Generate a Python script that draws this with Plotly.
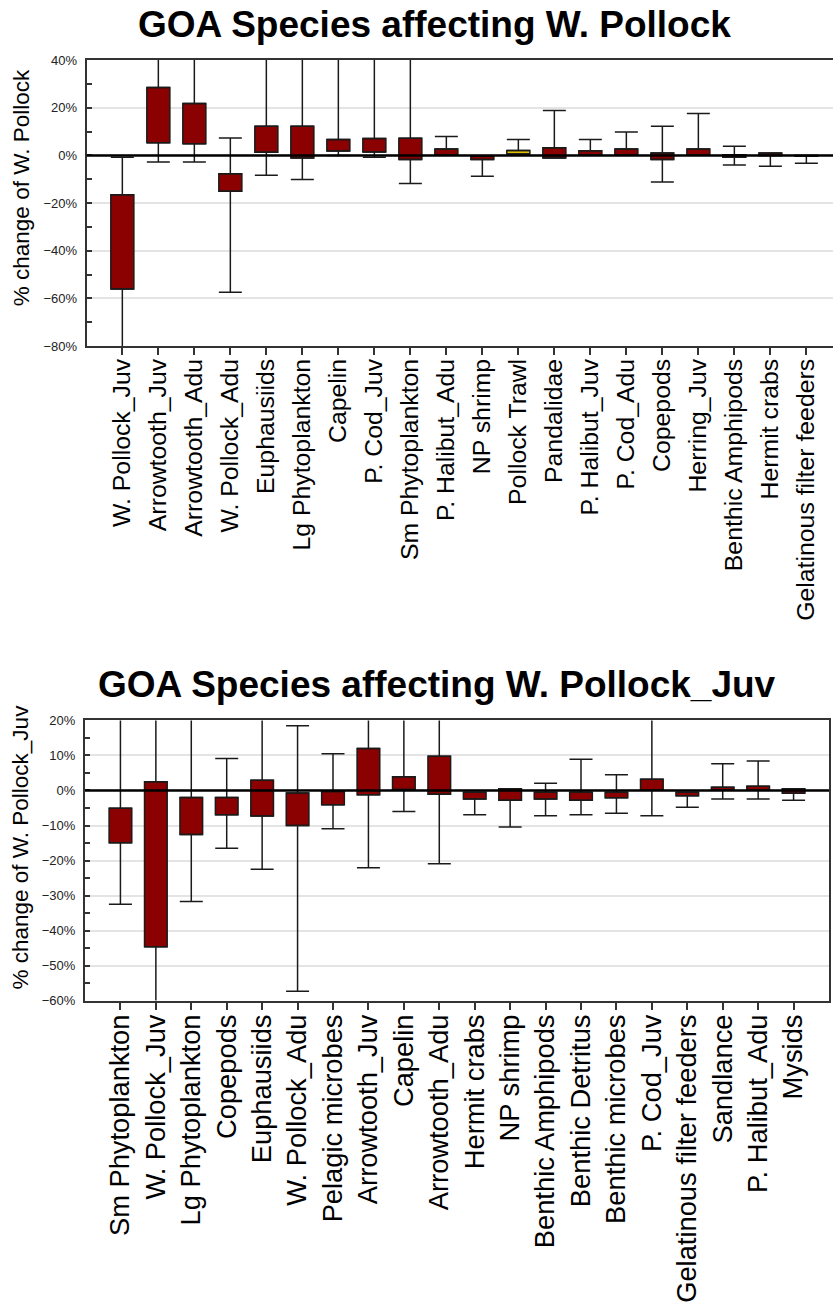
import plotly.graph_objects as go

# ---------------- data: top panel ----------------
cats_top = ["W. Pollock_Juv", "Arrowtooth_Juv", "Arrowtooth_Adu", "W. Pollock_Adu",
            "Euphausiids", "Lg Phytoplankton", "Capelin", "P. Cod_Juv",
            "Sm Phytoplankton", "P. Halibut_Adu", "NP shrimp", "Pollock Trawl",
            "Pandalidae", "P. Halibut_Juv", "P. Cod_Adu", "Copepods",
            "Herring_Juv", "Benthic Amphipods", "Hermit crabs",
            "Gelatinous filter feeders"]
box_lo_top = [-56.1, 5.3, 4.9, -15.0, 1.3, -1.1, 1.9, 1.4, -1.7, 0.3,
              -1.7, 0.6, -1.1, 0.3, 0.3, -1.7, 0.2, -0.8, 0.0, -0.3]
box_hi_top = [-16.5, 28.5, 21.8, -7.7, 12.2, 12.2, 6.7, 7.1, 7.2, 2.7,
              -0.3, 2.1, 3.2, 2.0, 2.7, 1.0, 2.7, 0.3, 1.0, 0.0]
whisk_lo_top = [-95.0, -2.8, -2.8, -57.5, -8.3, -10.1, 0.0, -0.8, -11.8, 0.3,
                -8.8, 0.6, -1.1, 0.3, 0.3, -11.2, 0.2, -4.0, -4.6, -3.3]
whisk_hi_top = [-0.8, 60.0, 60.0, 7.3, 60.0, 60.0, 60.0, 60.0, 60.0, 7.9,
                -0.3, 6.7, 18.8, 6.7, 9.8, 12.2, 17.6, 3.8, 1.0, 0.0]

# ---------------- data: bottom panel ----------------
cats_bot = ["Sm Phytoplankton", "W. Pollock_Juv", "Lg Phytoplankton", "Copepods",
            "Euphausiids", "W. Pollock_Adu", "Pelagic microbes", "Arrowtooth_Juv",
            "Capelin", "Arrowtooth_Adu", "Hermit crabs", "NP shrimp",
            "Benthic Amphipods", "Benthic Detritus", "Benthic microbes",
            "P. Cod_Juv", "Gelatinous filter feeders", "Sandlance",
            "P. Halibut_Adu", "Mysids"]
box_lo_bot = [-14.9, -44.6, -12.6, -6.9, -7.3, -10.0, -4.1, -1.2, 0.3, -1.1,
              -2.4, -2.8, -2.4, -2.8, -2.1, 0.1, -1.5, 0.2, 0.2, -0.8]
box_hi_bot = [-5.1, 2.5, -2.0, -2.0, 2.9, -0.7, -0.3, 12.0, 3.9, 9.8,
              -0.5, 0.5, -0.5, -0.5, -0.5, 3.2, -0.5, 0.9, 1.2, 0.5]
whisk_lo_bot = [-32.5, -75.0, -31.7, -16.5, -22.5, -57.3, -10.9, -22.1, -6.0, -20.9,
                -6.9, -10.4, -7.2, -6.9, -6.5, -7.2, -4.8, -2.4, -2.4, -2.8]
whisk_hi_bot = [35.0, 40.0, 30.0, 9.1, 35.0, 18.5, 10.5, 30.0, 30.0, 30.0,
                -0.5, 0.5, 2.1, 8.9, 4.5, 30.0, -0.5, 7.6, 8.4, 0.5]

highlight_top = "Pollock Trawl"

W, H = 833, 1304
FONT = "Liberation Sans, Arial, sans-serif"
DARKRED = "#8B0000"
EDGE = "#1a1a1a"
VS = 0.988   # observed vertical scale of the captured page
VO = 8       # observed vertical offset of the captured page


def fx(p):
    return p / W


def fy(p):
    return 1 - (p / VS - VO) / H


fig = go.Figure()


def add_panel(cats, blo, bhi, wlo, whi, xa, ya, colors):
    pos = list(range(1, len(cats) + 1))
    fig.add_trace(go.Bar(
        x=pos, y=[h - l for l, h in zip(blo, bhi)], base=blo, width=0.64,
        marker=dict(color=colors, line=dict(color=EDGE, width=1.5)),
        xaxis=xa, yaxis=ya, showlegend=False, hoverinfo="skip"))
    fig.add_trace(go.Scatter(
        x=pos, y=bhi, mode="markers",
        marker=dict(size=1, color="rgba(0,0,0,0)"),
        error_y=dict(type="data", symmetric=False,
                     array=[max(w - h, 0) for h, w in zip(bhi, whi)],
                     arrayminus=[0] * len(pos), color=EDGE, thickness=1.5, width=11.5),
        xaxis=xa, yaxis=ya, showlegend=False, hoverinfo="skip"))
    fig.add_trace(go.Scatter(
        x=pos, y=blo, mode="markers",
        marker=dict(size=1, color="rgba(0,0,0,0)"),
        error_y=dict(type="data", symmetric=False,
                     array=[0] * len(pos),
                     arrayminus=[max(l - w, 0) for l, w in zip(blo, wlo)],
                     color=EDGE, thickness=1.5, width=11.5),
        xaxis=xa, yaxis=ya, showlegend=False, hoverinfo="skip"))
    fig.add_shape(type="line", xref=f"{xa} domain", x0=0, x1=1, yref=ya, y0=0, y1=0,
                  line=dict(color="black", width=2.5), layer="above")


colors_top = ["#E0C000" if c == highlight_top else DARKRED for c in cats_top]
colors_bot = [DARKRED for _ in cats_bot]

add_panel(cats_top, box_lo_top, box_hi_top, whisk_lo_top, whisk_hi_top, "x", "y", colors_top)
add_panel(cats_bot, box_lo_bot, box_hi_bot, whisk_lo_bot, whisk_hi_bot, "x2", "y2", colors_bot)

common_x = dict(tickangle=-90, ticks="outside", ticklen=7, tickwidth=1.5, tickcolor="#333",
                showline=True, linecolor="#333", linewidth=2, showgrid=False, zeroline=False,
                ticklabelstandoff=-6)
common_y = dict(ticks="inside", ticklen=5, tickwidth=1.5, tickcolor="#333",
                showline=True, linecolor="#333", linewidth=2,
                showgrid=True, gridcolor="#e4e4e4", gridwidth=1.5, zeroline=False,
                ticklabelstandoff=5,
                ticksuffix="%", tickfont=dict(family=FONT, size=13, color="#222"))

fig.update_layout(
    width=W, height=H, margin=dict(l=0, r=0, t=0, b=0),
    paper_bgcolor="white", plot_bgcolor="white", showlegend=False,
    xaxis=dict(domain=[fx(86.7), 1.0], range=[0.01, 20.74], anchor="y",
               tickvals=list(range(1, len(cats_top) + 1)), ticktext=cats_top,
               tickfont=dict(family=FONT, size=24.8, color="black"),
               mirror=True, **common_x),
    yaxis=dict(domain=[fy(346.7), fy(61)], range=[-80, 40], anchor="x",
               dtick=20, tick0=0, mirror=False,
               minor=dict(dtick=10, ticks="inside", ticklen=5, tickcolor="#333", showgrid=False),
               **common_y),
    xaxis2=dict(domain=[fx(85), fx(829)], range=[0, 21], anchor="y2",
                tickvals=list(range(1, len(cats_bot) + 1)), ticktext=cats_bot,
                tickfont=dict(family=FONT, size=27.3, color="black"),
                mirror=True, **common_x),
    yaxis2=dict(domain=[fy(1001), fy(721)], range=[-60, 20], anchor="x2",
                dtick=10, tick0=0, mirror=True,
                minor=dict(dtick=5, ticks="inside", ticklen=5, tickcolor="#333", showgrid=False),
                **common_y),
)

title_font = dict(family=FONT, size=37, color="black", weight="bold")
axis_font = dict(family=FONT, size=22.5, color="black")
fig.add_annotation(text="GOA Species affecting W. Pollock", xref="paper", yref="paper",
                   x=fx(435), y=fy(25), xanchor="center", yanchor="middle",
                   showarrow=False, font=title_font)
fig.add_annotation(text="GOA Species affecting W. Pollock_Juv", xref="paper", yref="paper",
                   x=fx(437), y=fy(685), xanchor="center", yanchor="middle",
                   showarrow=False, font=title_font)
fig.add_annotation(text="% change of W. Pollock", xref="paper", yref="paper",
                   x=fx(21), y=fy(189), xanchor="center", yanchor="middle",
                   textangle=-90, showarrow=False, font=axis_font)
fig.add_annotation(text="% change of W. Pollock_Juv", xref="paper", yref="paper",
                   x=fx(21), y=fy(848), xanchor="center", yanchor="middle",
                   textangle=-90, showarrow=False, font=axis_font)

# remove the browser's default 8px body margin so the page is the figure
fig.write_html("out.html", config={"displayModeBar": False},
               post_script="document.body.style.margin='0';")
